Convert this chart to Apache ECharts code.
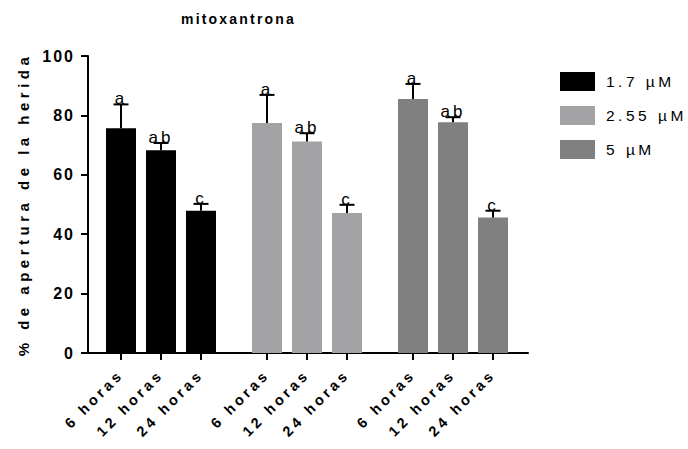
<!DOCTYPE html>
<html>
<head>
<meta charset="utf-8">
<script src="https://cdn.jsdelivr.net/npm/echarts@6/dist/echarts.min.js"></script>
<style>
  html, body { margin: 0; padding: 0; background: #fff; }
  #main { width: 688px; height: 449px; }
  /* Prism-like tracking on the labels */
  #main text { letter-spacing: 2px; }
  #main text[style*="14px"] { letter-spacing: 2.2px; }
  #main text[style*="15px"] { letter-spacing: 4.5px; }
  #main text[style*="14.5px"] { letter-spacing: 3.5px; }
  #main text[style*="15.5px"] { letter-spacing: 3.5px; }
  #main text[style*="17px"] { letter-spacing: 3px; }
</style>
</head>
<body>
<div id="main"></div>
<script>
// *mitoxantrona bars with error bars
const concentrations = ['1.7 µM', '2.55 µM', '5 µM'];
const times = ['6 horas', '12 horas', '24 horas'];
const means = [
  [75.7, 68.3, 47.9],
  [77.4, 71.2, 47.1],
  [85.5, 77.7, 45.6]
];
const errors = [
  [8.0, 2.4, 2.3],
  [9.5, 2.8, 2.8],
  [5.1, 1.7, 2.3]
];
const letters = [
  ['a', 'ab', 'c'],
  ['a', 'ab', 'c'],
  ['a', 'ab', 'c']
];
const colors = ['#000000', '#a3a3a6', '#808080'];

{
  const stride = 3.65; // distance between group starts, in bar slots
  const pos = (g, i) => g * stride + i;
  const positions = [];
  const tickLabels = [];
  concentrations.forEach((c, g) => {
    times.forEach((t, i) => {
      positions.push(pos(g, i));
      tickLabels.push(t);
    });
  });
  const labelAt = (v) => {
    const k = positions.findIndex(p => Math.abs(p - v) < 0.01);
    return k < 0 ? '' : tickLabels[k];
  };

  const font = 'Liberation Sans, Arial, sans-serif';
  const chart = echarts.init(document.querySelector('#main'), null, { renderer: 'svg' });

  const barSeries = concentrations.map((c, g) => ({
    name: c,
    type: 'bar',
    barWidth: 30,
    barGap: '-100%',
    itemStyle: { color: colors[g] },
    data: means[g].map((m, i) => [pos(g, i), m])
  }));

  const errData = [];
  concentrations.forEach((c, g) => {
    means[g].forEach((m, i) => {
      errData.push([pos(g, i), m, errors[g][i], letters[g][i]]);
    });
  });

  const option = {
    animation: false,
    title: {
      text: 'mitoxantrona',
      left: 176,
      top: 7,
      textStyle: { fontFamily: font, fontSize: 14, fontWeight: 'bold', color: '#000' }
    },
    legend: {
      orient: 'vertical',
      left: 555,
      top: 67,
      icon: 'rect',
      itemWidth: 35,
      itemHeight: 19,
      itemGap: 15,
      data: concentrations,
      textStyle: { fontFamily: font, fontSize: 15.5, color: '#000', padding: [0, 0, 0, 6] }
    },
    grid: { left: 88, right: 160, top: 56, bottom: 96 },
    xAxis: {
      type: 'value',
      min: -0.825,
      max: 2 * stride + 2 + 0.875,
      splitLine: { show: false },
      axisLine: { onZero: false, lineStyle: { color: '#000', width: 2 } },
      axisTick: {
        customValues: positions,
        length: 7,
        lineStyle: { color: '#000', width: 2 }
      },
      axisLabel: {
        customValues: positions,
        formatter: labelAt,
        rotate: 45,
        margin: 19,
        fontFamily: font,
        fontSize: 14.5,
        fontWeight: 'bold',
        color: '#000'
      }
    },
    yAxis: {
      type: 'value',
      min: 0,
      max: 100,
      interval: 20,
      name: '% de apertura de la herida',
      nameLocation: 'middle',
      nameGap: 57,
      nameTextStyle: { fontFamily: font, fontSize: 15, fontWeight: 'bold', color: '#000' },
      splitLine: { show: false },
      axisLine: { show: true, onZero: false, lineStyle: { color: '#000', width: 2 } },
      axisTick: { show: true, length: 7, lineStyle: { color: '#000', width: 2 } },
      axisLabel: {
        margin: 13,
        fontFamily: font,
        fontSize: 16,
        fontWeight: 'bold',
        color: '#000'
      }
    },
    series: [
      ...barSeries,
      {
        type: 'custom',
        name: 'err',
        z: 5,
        data: errData,
        encode: { x: 0, y: 1 },
        renderItem: (params, api) => {
          const x = api.value(0);
          const m = api.value(1);
          const e = api.value(2);
          const txt = errData[params.dataIndex][3];
          const base = api.coord([x, m]);
          const top = api.coord([x, m + e]);
          const half = 7.5;
          return {
            type: 'group',
            children: [
              {
                type: 'line',
                shape: { x1: base[0], y1: base[1], x2: top[0], y2: top[1] },
                style: { stroke: '#000', lineWidth: 2 }
              },
              {
                type: 'line',
                shape: { x1: top[0] - half, y1: top[1], x2: top[0] + half, y2: top[1] },
                style: { stroke: '#000', lineWidth: 2 }
              },
              {
                type: 'text',
                style: {
                  text: txt,
                  x: top[0],
                  y: top[1] + 3,
                  align: 'center',
                  verticalAlign: 'bottom',
                  font: '17px ' + font,
                  fill: '#000'
                }
              }
            ]
          };
        }
      }
    ]
  };
  chart.setOption(option);
}
</script>
</body>
</html>
